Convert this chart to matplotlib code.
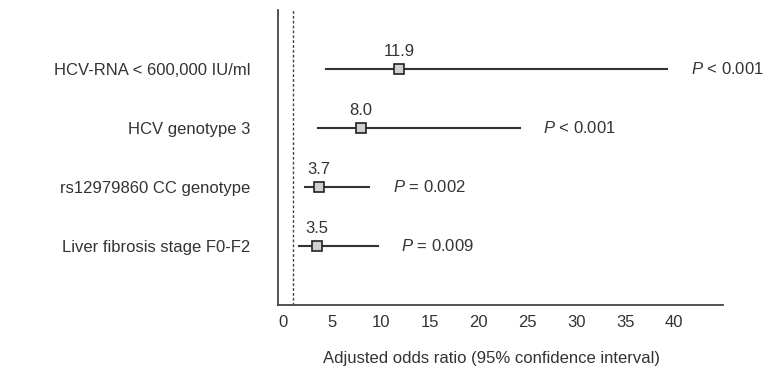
import matplotlib
matplotlib.use("Agg")
import matplotlib.pyplot as plt

# Adjusted odds ratios with 95% CI
factors = [
    "HCV-RNA < 600,000 IU/ml",
    "HCV genotype 3",
    "rs12979860 CC genotype",
    "Liver fibrosis stage F0-F2",
]
odds = [11.9, 8.0, 3.7, 3.5]
ci_low = [4.4, 3.6, 2.3, 1.6]
ci_high = [39.3, 24.2, 8.8, 9.7]
pvals = ["< 0.001", "< 0.001", "= 0.002", "= 0.009"]
xticks = [0, 5, 10, 15, 20, 25, 30, 35, 40]

plt.rcParams["font.family"] = ["Liberation Sans", "DejaVu Sans"]
plt.rcParams["mathtext.fontset"] = "custom"
plt.rcParams["mathtext.it"] = "Liberation Sans:italic"
plt.rcParams["mathtext.rm"] = "Liberation Sans"

txt = "#333333"
fs = 12

fig = plt.figure(figsize=(7.79, 3.67), dpi=100)
ax = fig.add_axes([0.357, 0.169, 0.571, 0.804])

rows = [4, 3, 2, 1]
for y, o, lo, hi, p in zip(rows, odds, ci_low, ci_high, pvals):
    ax.plot([lo, hi], [y, y], color="#333333", lw=1.5, zorder=2)
    ax.plot(o, y, marker="s", ms=7.5, mfc="#d0d0d0", mec="#222222", mew=1.2, zorder=3)
    ax.annotate(f"{o:.1f}", (o, y), xytext=(0, 7), textcoords="offset points",
                ha="center", va="bottom", fontsize=fs, color=txt)
    ax.annotate(f"$P$ {p}", (hi, y), xytext=(17, 0), textcoords="offset points",
                ha="left", va="center", fontsize=fs, color=txt)

# reference line at OR = 1
ax.axvline(1, color="#444444", lw=1, ls=(0, (2, 1.5)), zorder=1)

ax.set_xlim(-0.5, 45)
ax.set_ylim(0, 5)
ax.set_yticks(rows)
ax.set_yticklabels(factors, fontsize=fs, color=txt)
ax.set_xticks(xticks)
ax.set_xticklabels([str(t) for t in xticks], fontsize=fs, color=txt)
ax.tick_params(axis="both", length=0)
ax.tick_params(axis="x", pad=7)
ax.tick_params(axis="y", pad=20)
ax.set_xlabel("Adjusted odds ratio (95% confidence interval)", fontsize=fs,
              color=txt)
ax.xaxis.set_label_coords(0.48, -0.155)

for side in ("top", "right"):
    ax.spines[side].set_visible(False)
for side in ("left", "bottom"):
    ax.spines[side].set_color("#444444")
    ax.spines[side].set_linewidth(1.3)

fig.savefig("out.png", dpi=100)
